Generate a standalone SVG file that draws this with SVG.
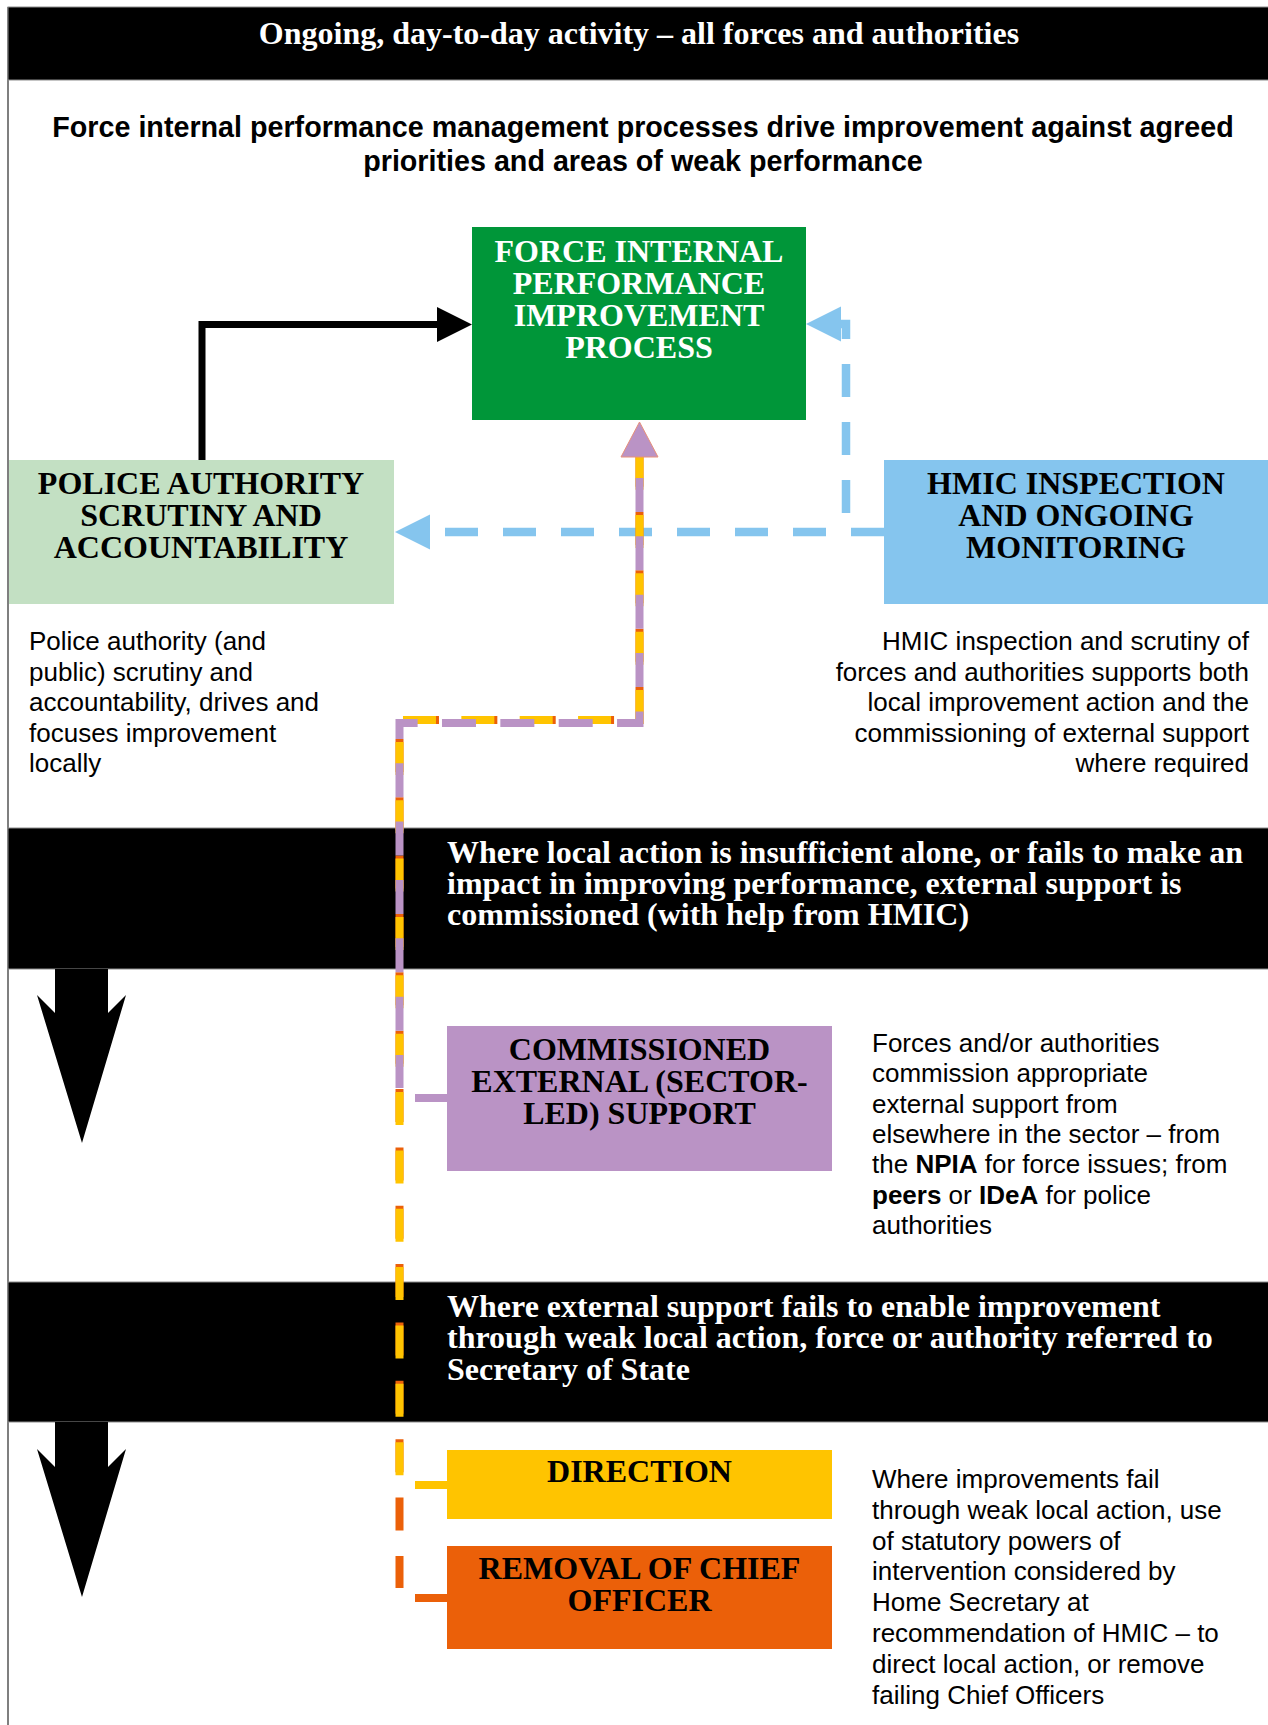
<svg xmlns="http://www.w3.org/2000/svg" width="1268" height="1725" viewBox="0 0 1268 1725">
<style>
  .band{fill:#000;stroke:#8c8c8c;stroke-width:1}
  .hw{font-family:"Liberation Serif","Times New Roman",serif;font-weight:bold;font-size:32px;fill:#fff}
  .nt{font-family:"Liberation Serif","Times New Roman",serif;font-weight:bold;font-size:32px;fill:#000;text-anchor:middle}
  .ds{font-family:"Liberation Sans",Arial,sans-serif;font-size:26px;fill:#000}
  .sub{font-family:"Liberation Sans",Arial,sans-serif;font-weight:bold;font-size:28.7px;fill:#000;text-anchor:middle}
  .blue{fill:none;stroke:#85C5EE;stroke-width:8.5;stroke-dasharray:33 25}
  .mc{fill:none;stroke-width:8;stroke-linejoin:miter}
</style>
<rect x="0" y="0" width="1268" height="1725" fill="#fff"/>
<line x1="8" y1="7" x2="8" y2="1725" stroke="#555" stroke-width="1.5"/>

<g id="header">
  <rect class="band" x="8" y="7" width="1261" height="73"/>
  <text class="hw" x="639" y="44" text-anchor="middle">Ongoing, day-to-day activity – all forces and authorities</text>
  <text class="sub" x="643" y="137">Force internal performance management processes drive improvement against agreed</text>
  <text class="sub" x="643" y="171">priorities and areas of weak performance</text>
</g>

<g id="band-external">
  <rect class="band" x="8" y="828" width="1261" height="141"/>
  <text class="hw" x="447" y="863">Where local action is insufficient alone, or fails to make an</text>
  <text class="hw" x="447" y="894">impact in improving performance, external support is</text>
  <text class="hw" x="447" y="925">commissioned (with help from HMIC)</text>
</g>

<g id="band-secretary">
  <rect class="band" x="8" y="1282" width="1261" height="140"/>
  <text class="hw" x="447" y="1317">Where external support fails to enable improvement</text>
  <text class="hw" x="447" y="1348">through weak local action, force or authority referred to</text>
  <text class="hw" x="447" y="1380">Secretary of State</text>
</g>

<g id="connectors">
  <!-- HMIC to police authority -->
  <path class="blue" d="M884,532 H430"/>
  <polygon points="430,514.5 395,532 430,549.5" fill="#85C5EE"/>
  <!-- HMIC to force internal -->
  <path class="blue" d="M846,513 V324 H841"/>
  <polygon points="841,306.5 806,324 841,341.5" fill="#85C5EE"/>
  <!-- police authority to force internal -->
  <path d="M202,460 V324.5 H438" fill="none" stroke="#000" stroke-width="7" stroke-linejoin="miter"/>
  <polygon points="437,307 472,324.5 437,342" fill="#000"/>
  <!-- escalation path: removal (orange), direction (yellow), commissioned (purple) -->
  <path class="mc" d="M639.5,457 V720 H399.5 V1588" stroke="#EB6009" stroke-dasharray="33 25.36" stroke-dashoffset="3.36"/>
  <path class="mc" d="M639.5,457 V720 H399.5 V1485" stroke="#FFC400" stroke-dasharray="33 25.36" stroke-dashoffset="0.36"/>
  <path class="mc" d="M639.5,457 V723 H399.5 V1088" stroke="#BA93C5" stroke-dasharray="34 24.36" stroke-dashoffset="37.36"/>
  <polygon points="639.5,422 658,457 621,457" fill="#BA93C5" stroke="#E8907A" stroke-width="1"/>
  <path d="M415,1098 H447" stroke="#BA93C5" stroke-width="8"/>
  <path d="M415,1485 H447" stroke="#FFC400" stroke-width="8"/>
  <path d="M415,1598 H447" stroke="#EB6009" stroke-width="8"/>
  <!-- escalation arrows -->
  <polygon points="55,969 108,969 108,1013 126,995 82,1143 37,995 55,1013" fill="#000"/>
  <polygon points="55,1422 108,1422 108,1467 126,1449 82,1597 37,1449 55,1467" fill="#000"/>
</g>

<g id="force-internal">
  <rect x="472" y="227" width="334" height="193" fill="#009639"/>
  <text class="nt" x="639" y="262" style="fill:#fff">FORCE INTERNAL</text>
  <text class="nt" x="639" y="294" style="fill:#fff">PERFORMANCE</text>
  <text class="nt" x="639" y="326" style="fill:#fff">IMPROVEMENT</text>
  <text class="nt" x="639" y="358" style="fill:#fff">PROCESS</text>
</g>

<g id="police-authority">
  <rect x="9" y="460" width="385" height="144" fill="#C3E0C3"/>
  <text class="nt" x="201" y="494">POLICE AUTHORITY</text>
  <text class="nt" x="201" y="526">SCRUTINY AND</text>
  <text class="nt" x="201" y="558">ACCOUNTABILITY</text>
</g>

<g id="hmic">
  <rect x="884" y="460" width="384" height="144" fill="#85C5EE"/>
  <text class="nt" x="1076" y="494">HMIC INSPECTION</text>
  <text class="nt" x="1076" y="526">AND ONGOING</text>
  <text class="nt" x="1076" y="558">MONITORING</text>
</g>

<g id="commissioned">
  <rect x="447" y="1026" width="385" height="145" fill="#BA93C5"/>
  <text class="nt" x="639.5" y="1060">COMMISSIONED</text>
  <text class="nt" x="639.5" y="1092">EXTERNAL (SECTOR-</text>
  <text class="nt" x="639.5" y="1124">LED) SUPPORT</text>
</g>

<g id="direction">
  <rect x="447" y="1450" width="385" height="69" fill="#FFC400"/>
  <text class="nt" x="639.5" y="1482">DIRECTION</text>
</g>

<g id="removal">
  <rect x="447" y="1546" width="385" height="103" fill="#EB6009"/>
  <text class="nt" x="639.5" y="1579">REMOVAL OF CHIEF</text>
  <text class="nt" x="639.5" y="1611">OFFICER</text>
</g>

<g id="police-authority-note" class="ds">
  <text x="29" y="650">Police authority (and</text>
  <text x="29" y="680.5">public) scrutiny and</text>
  <text x="29" y="711">accountability, drives and</text>
  <text x="29" y="741.5">focuses improvement</text>
  <text x="29" y="772">locally</text>
</g>

<g id="hmic-note" class="ds" text-anchor="end">
  <text x="1249" y="650">HMIC inspection and scrutiny of</text>
  <text x="1249" y="680.5">forces and authorities supports both</text>
  <text x="1249" y="711">local improvement action and the</text>
  <text x="1249" y="741.5">commissioning of external support</text>
  <text x="1249" y="772">where required</text>
</g>

<g id="commissioned-note" class="ds">
  <text x="872" y="1052">Forces and/or authorities</text>
  <text x="872" y="1082.3">commission appropriate</text>
  <text x="872" y="1112.6">external support from</text>
  <text x="872" y="1143">elsewhere in the sector – from</text>
  <text x="872" y="1173.3">the <tspan font-weight="bold">NPIA</tspan> for force issues; from</text>
  <text x="872" y="1203.6"><tspan font-weight="bold">peers</tspan> or <tspan font-weight="bold">IDeA</tspan> for police</text>
  <text x="872" y="1234">authorities</text>
</g>

<g id="intervention-note" class="ds">
  <text x="872" y="1488">Where improvements fail</text>
  <text x="872" y="1518.8">through weak local action, use</text>
  <text x="872" y="1549.6">of statutory powers of</text>
  <text x="872" y="1580.4">intervention considered by</text>
  <text x="872" y="1611.2">Home Secretary at</text>
  <text x="872" y="1642">recommendation of HMIC – to</text>
  <text x="872" y="1672.8">direct local action, or remove</text>
  <text x="872" y="1703.6">failing Chief Officers</text>
</g>
</svg>
